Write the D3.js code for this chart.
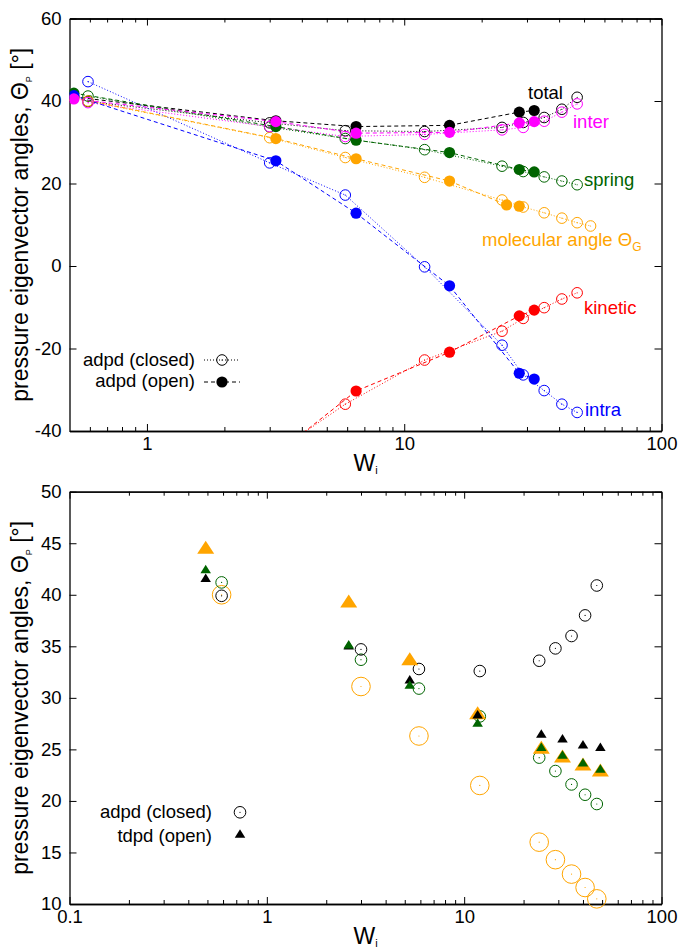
<!DOCTYPE html>
<html>
<head>
<meta charset="utf-8">
<script src="https://cdn.jsdelivr.net/npm/d3@7"></script>
<style>
  body { margin: 0; background: #fff; }
  svg { display: block; }
</style>
</head>
<body>
<svg id="chart" width="680" height="948"></svg>
<script>
// Wi grids
var wClosed = [0.59, 3.0, 5.9, 12, 24, 29, 35, 41, 47];
var wOpen = [0.52, 3.17, 6.5, 15, 28, 32];
var wMolClosed = [0.59, 3.0, 5.9, 12, 24, 29, 35, 41, 47, 53];
var wMolOpen = [0.52, 3.17, 6.5, 15, 25, 28];
var wTdpd = [0.49, 2.6, 5.3, 11.7, 24.6, 31.5, 40, 49];

// adpd (closed) angles, degrees
var totalClosed = [39.9, 34.7, 32.8, 32.6, 33.6, 34.8, 36.0, 38.0, 40.9];
var interClosed = [39.6, 33.8, 31.4, 31.9, 33.0, 33.6, 35.1, 37.3, 39.3];
var springClosed = [41.2, 33.7, 30.9, 28.2, 24.2, 22.9, 21.6, 20.6, 19.7];
var molClosed = [40.0, 31.1, 26.3, 21.5, 16.0, 14.3, 12.9, 11.6, 10.5, 9.7];
var kineticClosed = [-62, -46.1, -33.5, -22.8, -15.8, -12.7, -10.1, -8.0, -6.5];
var intraClosed = [44.7, 25.0, 17.2, -0.2, -19.2, -26.4, -30.2, -33.5, -35.5];

// adpd (open)
var totalOpen = [41.0, 35.2, 33.8, 34.1, 37.3, 37.7];
var interOpen = [40.5, 35.0, 32.2, 32.4, 34.7, 35.0];
var springOpen = [41.9, 33.8, 30.5, 27.5, 23.4, 22.8];
var molOpen = [40.8, 30.9, 26.0, 20.6, 14.8, 14.5];
var kineticOpen = [-60, -45.7, -30.3, -20.9, -12.1, -10.7];
var intraOpen = [41.3, 25.5, 12.8, -4.8, -26.0, -27.4];

// tdpd (open)
var totalTdpd = [41.65, 35.1, 31.8, 28.4, 26.55, 26.07, 25.5, 25.26];
var springTdpd = [42.5, 35.2, 31.3, 27.6, 25.25, 24.5, 23.74, 23.15];
var molTdpd = [44.6, 39.4, 33.8, 28.55, 25.2, 24.35, 23.58, 23.0];

var topYTicks = [-40, -20, 0, 20, 40, 60];
var topXTicks = [1, 10, 100];
var botYTicks = [10, 15, 20, 25, 30, 35, 40, 45, 50];
var botXTicks = [0.1, 1, 10, 100];

var BLACK = "#000000", MAGENTA = "#ff00ff", GREEN = "#006400",
    ORANGE = "#ffa500", RED = "#ff0000", BLUE = "#0000ff";
var FONT = "'Liberation Sans', Arial, Helvetica, sans-serif";
var DOTTED = "1,2", DASHED = "4,3";

var svg = d3.select("#chart");
var left = 69.5, right = 661.5;

function minorTicks(domain) {
    var out = [];
    for (var d = Math.floor(Math.log10(domain[0])); d < Math.ceil(Math.log10(domain[1])); d++) {
        for (var k = 2; k <= 9; k++) {
            var v = k * Math.pow(10, d);
            if (v > domain[0] && v < domain[1]) out.push(+v.toPrecision(3));
        }
    }
    return out;
}

function frame(x, y, xTicks, yTicks, id) {
    var top = y.range()[1], bottom = y.range()[0];
    var g = svg.append("g");

    g.append("clipPath").attr("id", id)
        .append("rect")
        .attr("x", left).attr("y", top)
        .attr("width", right - left).attr("height", bottom - top);

    var fmt = function(d) { return String(d); };
    var minors = minorTicks(x.domain());

    g.append("g").attr("transform", "translate(0," + bottom + ")")
        .call(d3.axisBottom(x).tickValues(xTicks).tickFormat(fmt)
            .tickSize(-7).tickSizeOuter(0).tickPadding(6));
    g.append("g").attr("transform", "translate(0," + bottom + ")")
        .call(d3.axisBottom(x).tickValues(minors).tickFormat("")
            .tickSize(-4).tickSizeOuter(0));
    g.append("g").attr("transform", "translate(0," + top + ")")
        .call(d3.axisTop(x).tickValues(xTicks).tickFormat("")
            .tickSize(-7).tickSizeOuter(0));
    g.append("g").attr("transform", "translate(0," + top + ")")
        .call(d3.axisTop(x).tickValues(minors).tickFormat("")
            .tickSize(-4).tickSizeOuter(0));
    g.append("g").attr("transform", "translate(" + left + ",0)")
        .call(d3.axisLeft(y).tickValues(yTicks).tickFormat(fmt)
            .tickSize(-7).tickSizeOuter(0).tickPadding(8));
    g.append("g").attr("transform", "translate(" + right + ",0)")
        .call(d3.axisRight(y).tickValues(yTicks).tickFormat("")
            .tickSize(-7).tickSizeOuter(0));

    g.selectAll(".domain").attr("stroke-width", 1.3);
    g.selectAll(".tick line").attr("stroke-width", 1);
    g.selectAll(".tick text")
        .attr("font-family", FONT).attr("font-size", 18.5).attr("fill", "#000");

    // axis titles
    g.append("text")
        .attr("transform", "translate(28," + ((top + bottom) / 2) + ") rotate(-90)")
        .attr("text-anchor", "middle")
        .attr("font-family", FONT).attr("font-size", 23)
        .html('pressure eigenvector angles, \u0398<tspan font-size="9" dy="4">P</tspan><tspan dy="-4"> [\u00b0]</tspan>');
    var wt = g.append("text")
        .attr("x", (left + right) / 2).attr("y", bottom + 40)
        .attr("text-anchor", "middle")
        .attr("font-family", FONT).attr("font-size", 23);
    wt.append("tspan").text("W");
    wt.append("tspan").attr("font-size", 11).attr("dy", 3).text("i");

    return g;
}

function inside(x, y) {
    var xd = x.domain(), yd = y.domain();
    return function(d) {
        return d[0] >= xd[0] && d[0] <= xd[1] && d[1] >= yd[0] && d[1] <= yd[1];
    };
}

function ringWithDot(sel, r, color) {
    sel.append("circle").attr("r", r)
        .attr("fill", "none").attr("stroke", color).attr("stroke-width", 1);
    sel.append("circle").attr("r", 0.6).attr("fill", color);
}

function triangle(w, h) {
    return "M0," + (-h / 2) + "L" + (w / 2) + "," + (h / 2) + "L" + (-w / 2) + "," + (h / 2) + "Z";
}

// ---------- top panel ----------
var xTop = d3.scaleLog().domain([0.5, 100]).range([left, right]);
var yTop = d3.scaleLinear().domain([-40, 60]).range([431, 18.5]);
var gTop = frame(xTop, yTop, topXTicks, topYTicks, "clipTop");

var topSeries = [
    { w: wClosed, v: totalClosed, color: BLACK, closed: true },
    { w: wClosed, v: springClosed, color: GREEN, closed: true },
    { w: wMolClosed, v: molClosed, color: ORANGE, closed: true },
    { w: wClosed, v: kineticClosed, color: RED, closed: true },
    { w: wClosed, v: intraClosed, color: BLUE, closed: true },
    { w: wClosed, v: interClosed, color: MAGENTA, closed: true },
    { w: wOpen, v: totalOpen, color: BLACK, closed: false },
    { w: wOpen, v: springOpen, color: GREEN, closed: false },
    { w: wMolOpen, v: molOpen, color: ORANGE, closed: false },
    { w: wOpen, v: kineticOpen, color: RED, closed: false },
    { w: wOpen, v: intraOpen, color: BLUE, closed: false },
    { w: wOpen, v: interOpen, color: MAGENTA, closed: false }
];

var lineTop = d3.line()
    .x(function(d) { return xTop(d[0]); })
    .y(function(d) { return yTop(d[1]); });

var plotTop = gTop.append("g").attr("clip-path", "url(#clipTop)");
topSeries.forEach(function(s) {
    var pts = d3.zip(s.w, s.v);
    plotTop.append("path")
        .attr("d", lineTop(pts))
        .attr("fill", "none")
        .attr("stroke", s.color)
        .attr("stroke-width", 1)
        .attr("stroke-dasharray", s.closed ? DOTTED : DASHED);
});
topSeries.forEach(function(s) {
    var pts = d3.zip(s.w, s.v).filter(inside(xTop, yTop));
    var m = plotTop.selectAll(null).data(pts).enter().append("g")
        .attr("transform", function(d) { return "translate(" + xTop(d[0]) + "," + yTop(d[1]) + ")"; });
    if (s.closed) ringWithDot(m, 5.3, s.color);
    else m.append("circle").attr("r", 5.6).attr("fill", s.color);
});

var topLabels = [
    { text: "total", x: 528, y: 99, color: BLACK },
    { text: "inter", x: 573, y: 128, color: MAGENTA },
    { text: "spring", x: 584, y: 185.5, color: GREEN },
    { text: "kinetic", x: 584, y: 313.5, color: RED },
    { text: "intra", x: 585, y: 416, color: BLUE }
];
gTop.selectAll(".curve-label").data(topLabels).enter().append("text")
    .attr("x", function(d) { return d.x; })
    .attr("y", function(d) { return d.y; })
    .attr("fill", function(d) { return d.color; })
    .attr("font-family", FONT).attr("font-size", 18.5)
    .text(function(d) { return d.text; });
gTop.append("text")
    .attr("x", 482).attr("y", 246)
    .attr("fill", ORANGE)
    .attr("font-family", FONT).attr("font-size", 18.5)
    .html('molecular angle \u0398<tspan font-size="12" dy="5">G</tspan>');

// legend
var legTop = gTop.append("g").attr("font-family", FONT).attr("font-size", 18.5);
legTop.append("text").attr("x", 195).attr("y", 365.7).attr("text-anchor", "end").text("adpd (closed)");
legTop.append("line").attr("x1", 204).attr("x2", 240).attr("y1", 360).attr("y2", 360)
    .attr("stroke", BLACK).attr("stroke-dasharray", DOTTED);
ringWithDot(legTop.append("g").attr("transform", "translate(222,360)"), 5.3, BLACK);
legTop.append("text").attr("x", 195).attr("y", 387).attr("text-anchor", "end").text("adpd (open)");
legTop.append("line").attr("x1", 204).attr("x2", 240).attr("y1", 382).attr("y2", 382)
    .attr("stroke", BLACK).attr("stroke-dasharray", DASHED);
legTop.append("circle").attr("cx", 222).attr("cy", 382).attr("r", 5.6).attr("fill", BLACK);

// ---------- bottom panel ----------
var xBot = d3.scaleLog().domain([0.1, 100]).range([left, right]);
var yBot = d3.scaleLinear().domain([10, 50]).range([904, 491.7]);
var gBot = frame(xBot, yBot, botXTicks, botYTicks, "clipBot");

var circleSeries = [
    { w: wMolClosed, v: molClosed, color: ORANGE, r: 9.3 },
    { w: wClosed, v: springClosed, color: GREEN, r: 5.8 },
    { w: wClosed, v: totalClosed, color: BLACK, r: 5.8 }
];
var triSeries = [
    { w: wTdpd, v: molTdpd, color: ORANGE, tw: 17, th: 13 },
    { w: wTdpd, v: totalTdpd, color: BLACK, tw: 10.5, th: 8.5 },
    { w: wTdpd, v: springTdpd, color: GREEN, tw: 10.5, th: 8.5 }
];

var plotBot = gBot.append("g");
circleSeries.forEach(function(s) {
    var pts = d3.zip(s.w, s.v).filter(inside(xBot, yBot));
    var m = plotBot.selectAll(null).data(pts).enter().append("g")
        .attr("transform", function(d) { return "translate(" + xBot(d[0]) + "," + yBot(d[1]) + ")"; });
    ringWithDot(m, s.r, s.color);
});
triSeries.forEach(function(s) {
    var pts = d3.zip(s.w, s.v).filter(inside(xBot, yBot));
    plotBot.selectAll(null).data(pts).enter().append("path")
        .attr("transform", function(d) { return "translate(" + xBot(d[0]) + "," + yBot(d[1]) + ")"; })
        .attr("d", triangle(s.tw, s.th))
        .attr("fill", s.color);
});

var legBot = gBot.append("g").attr("font-family", FONT).attr("font-size", 18.5);
legBot.append("text").attr("x", 212).attr("y", 818.3).attr("text-anchor", "end").text("adpd (closed)");
ringWithDot(legBot.append("g").attr("transform", "translate(240,812.3)"), 5.8, BLACK);
legBot.append("text").attr("x", 212).attr("y", 841.7).attr("text-anchor", "end").text("tdpd (open)");
legBot.append("path").attr("transform", "translate(240,833.5)")
    .attr("d", triangle(10.5, 8.5)).attr("fill", BLACK);
</script>
</body>
</html>
